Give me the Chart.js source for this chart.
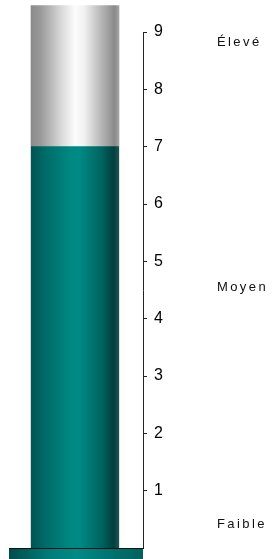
<!DOCTYPE html>
<html>
<head>
<meta charset="utf-8">
<script src="https://cdn.jsdelivr.net/npm/chart.js@4/dist/chart.umd.min.js"></script>
<style>
  html, body { margin: 0; padding: 0; background: #fff; }
  #wrap { width: 274px; height: 559px; }
</style>
</head>
<body>
<div id="wrap"><canvas id="gauge"></canvas></div>
<script>
// gauge data
const categories = [''];
const gaugeValue = [7];
const gaugeTop = [9.46];
const scaleMin = 0;
const scaleMax = 9;
const levelLabels = ['Faible', 'Moyen', 'Élevé'];
const levelValues = [0.35, 4.48, 8.76];

function hGradient(chart, stops) {
  const area = chart.chartArea;
  if (!area) return stops[0][1];
  const g = chart.ctx.createLinearGradient(area.left, 0, area.right, 0);
  stops.forEach(s => g.addColorStop(s[0], s[1]));
  return g;
}

const grayStops = [[0, '#8a8a8a'], [0.12, '#9c9c9c'], [0.35, '#dadada'], [0.5, '#fcfcfc'],
  [0.6, '#f2f2f2'], [0.82, '#b0b0b0'], [0.95, '#8a8a8a'], [1, '#a4a4a4']];
const tealStops = [[0, '#005452'], [0.15, '#006a67'], [0.45, '#008883'], [0.55, '#008a85'],
  [0.8, '#006461'], [0.94, '#003f3d'], [1, '#1d5654']];
const baseStops = [[0, '#004c4a'], [0.3, '#007c78'], [0.5, '#008a86'], [0.75, '#007370'], [1, '#00625f']];

const decor = {
  id: 'decor',
  afterDraw(chart) {
    const ctx = chart.ctx;
    const area = chart.chartArea;
    const y = chart.scales.y;
    // pedestal under the tube
    const left = area.left - 22, right = y.left;
    const g = ctx.createLinearGradient(left, 0, right, 0);
    baseStops.forEach(s => g.addColorStop(s[0], s[1]));
    ctx.save();
    ctx.fillStyle = g;
    ctx.fillRect(left, area.bottom, right - left, chart.height - area.bottom);
    ctx.strokeStyle = '#111';
    ctx.lineWidth = 1;
    ctx.beginPath();
    ctx.moveTo(left, area.bottom + 0.5);
    ctx.lineTo(right + 1, area.bottom + 0.5);
    ctx.stroke();
    // level captions
    ctx.fillStyle = '#111';
    ctx.font = '13px "Liberation Sans", Arial, sans-serif';
    ctx.letterSpacing = '2.4px';
    ctx.textAlign = 'left';
    ctx.textBaseline = 'alphabetic';
    levelLabels.forEach((t, i) => {
      ctx.fillText(t, y.left + 74, y.getPixelForValue(levelValues[i]));
    });
    ctx.restore();
  }
};

new Chart(document.getElementById('gauge'), {
  type: 'bar',
  data: {
    labels: categories,
    datasets: [
      {
        data: gaugeValue,
        yAxisID: 'y',
        backgroundColor: c => hGradient(c.chart, tealStops),
        borderWidth: 0,
        grouped: false,
        barPercentage: 1,
        categoryPercentage: 1
      },
      {
        data: gaugeTop,
        yAxisID: 'y',
        backgroundColor: c => hGradient(c.chart, grayStops),
        borderWidth: 0,
        grouped: false,
        clip: false,
        barPercentage: 1,
        categoryPercentage: 1
      }
    ]
  },
  options: {
    responsive: true,
    maintainAspectRatio: false,
    animation: false,
    layout: { padding: { top: 32, bottom: 11, left: 31, right: 0 } },
    plugins: { legend: { display: false }, tooltip: { enabled: false } },
    scales: {
      x: { display: false },
      y: {
        position: 'right',
        weight: 1,
        min: scaleMin,
        max: scaleMax,
        border: { display: true, color: '#222', width: 1 },
        grid: {
          display: true,
          drawOnChartArea: false,
          tickLength: 4,
          color: '#222'
        },
        ticks: {
          stepSize: 1,
          padding: 7,
          color: '#000',
          font: { family: '"Liberation Sans", Arial, sans-serif', size: 16 },
          callback: v => (v === 0 ? null : v)
        },
        afterFit: s => {
          s.width = 131;
          s.paddingTop = 0;
          s.paddingBottom = 0;
        }
      },
      gap: {
        type: 'linear',
        position: 'right',
        weight: 0,
        grid: { display: false },
        ticks: { display: false },
        border: { display: false },
        afterFit: s => { s.width = 24; }
      }
    }
  },
  plugins: [decor]
});
</script>
</body>
</html>
